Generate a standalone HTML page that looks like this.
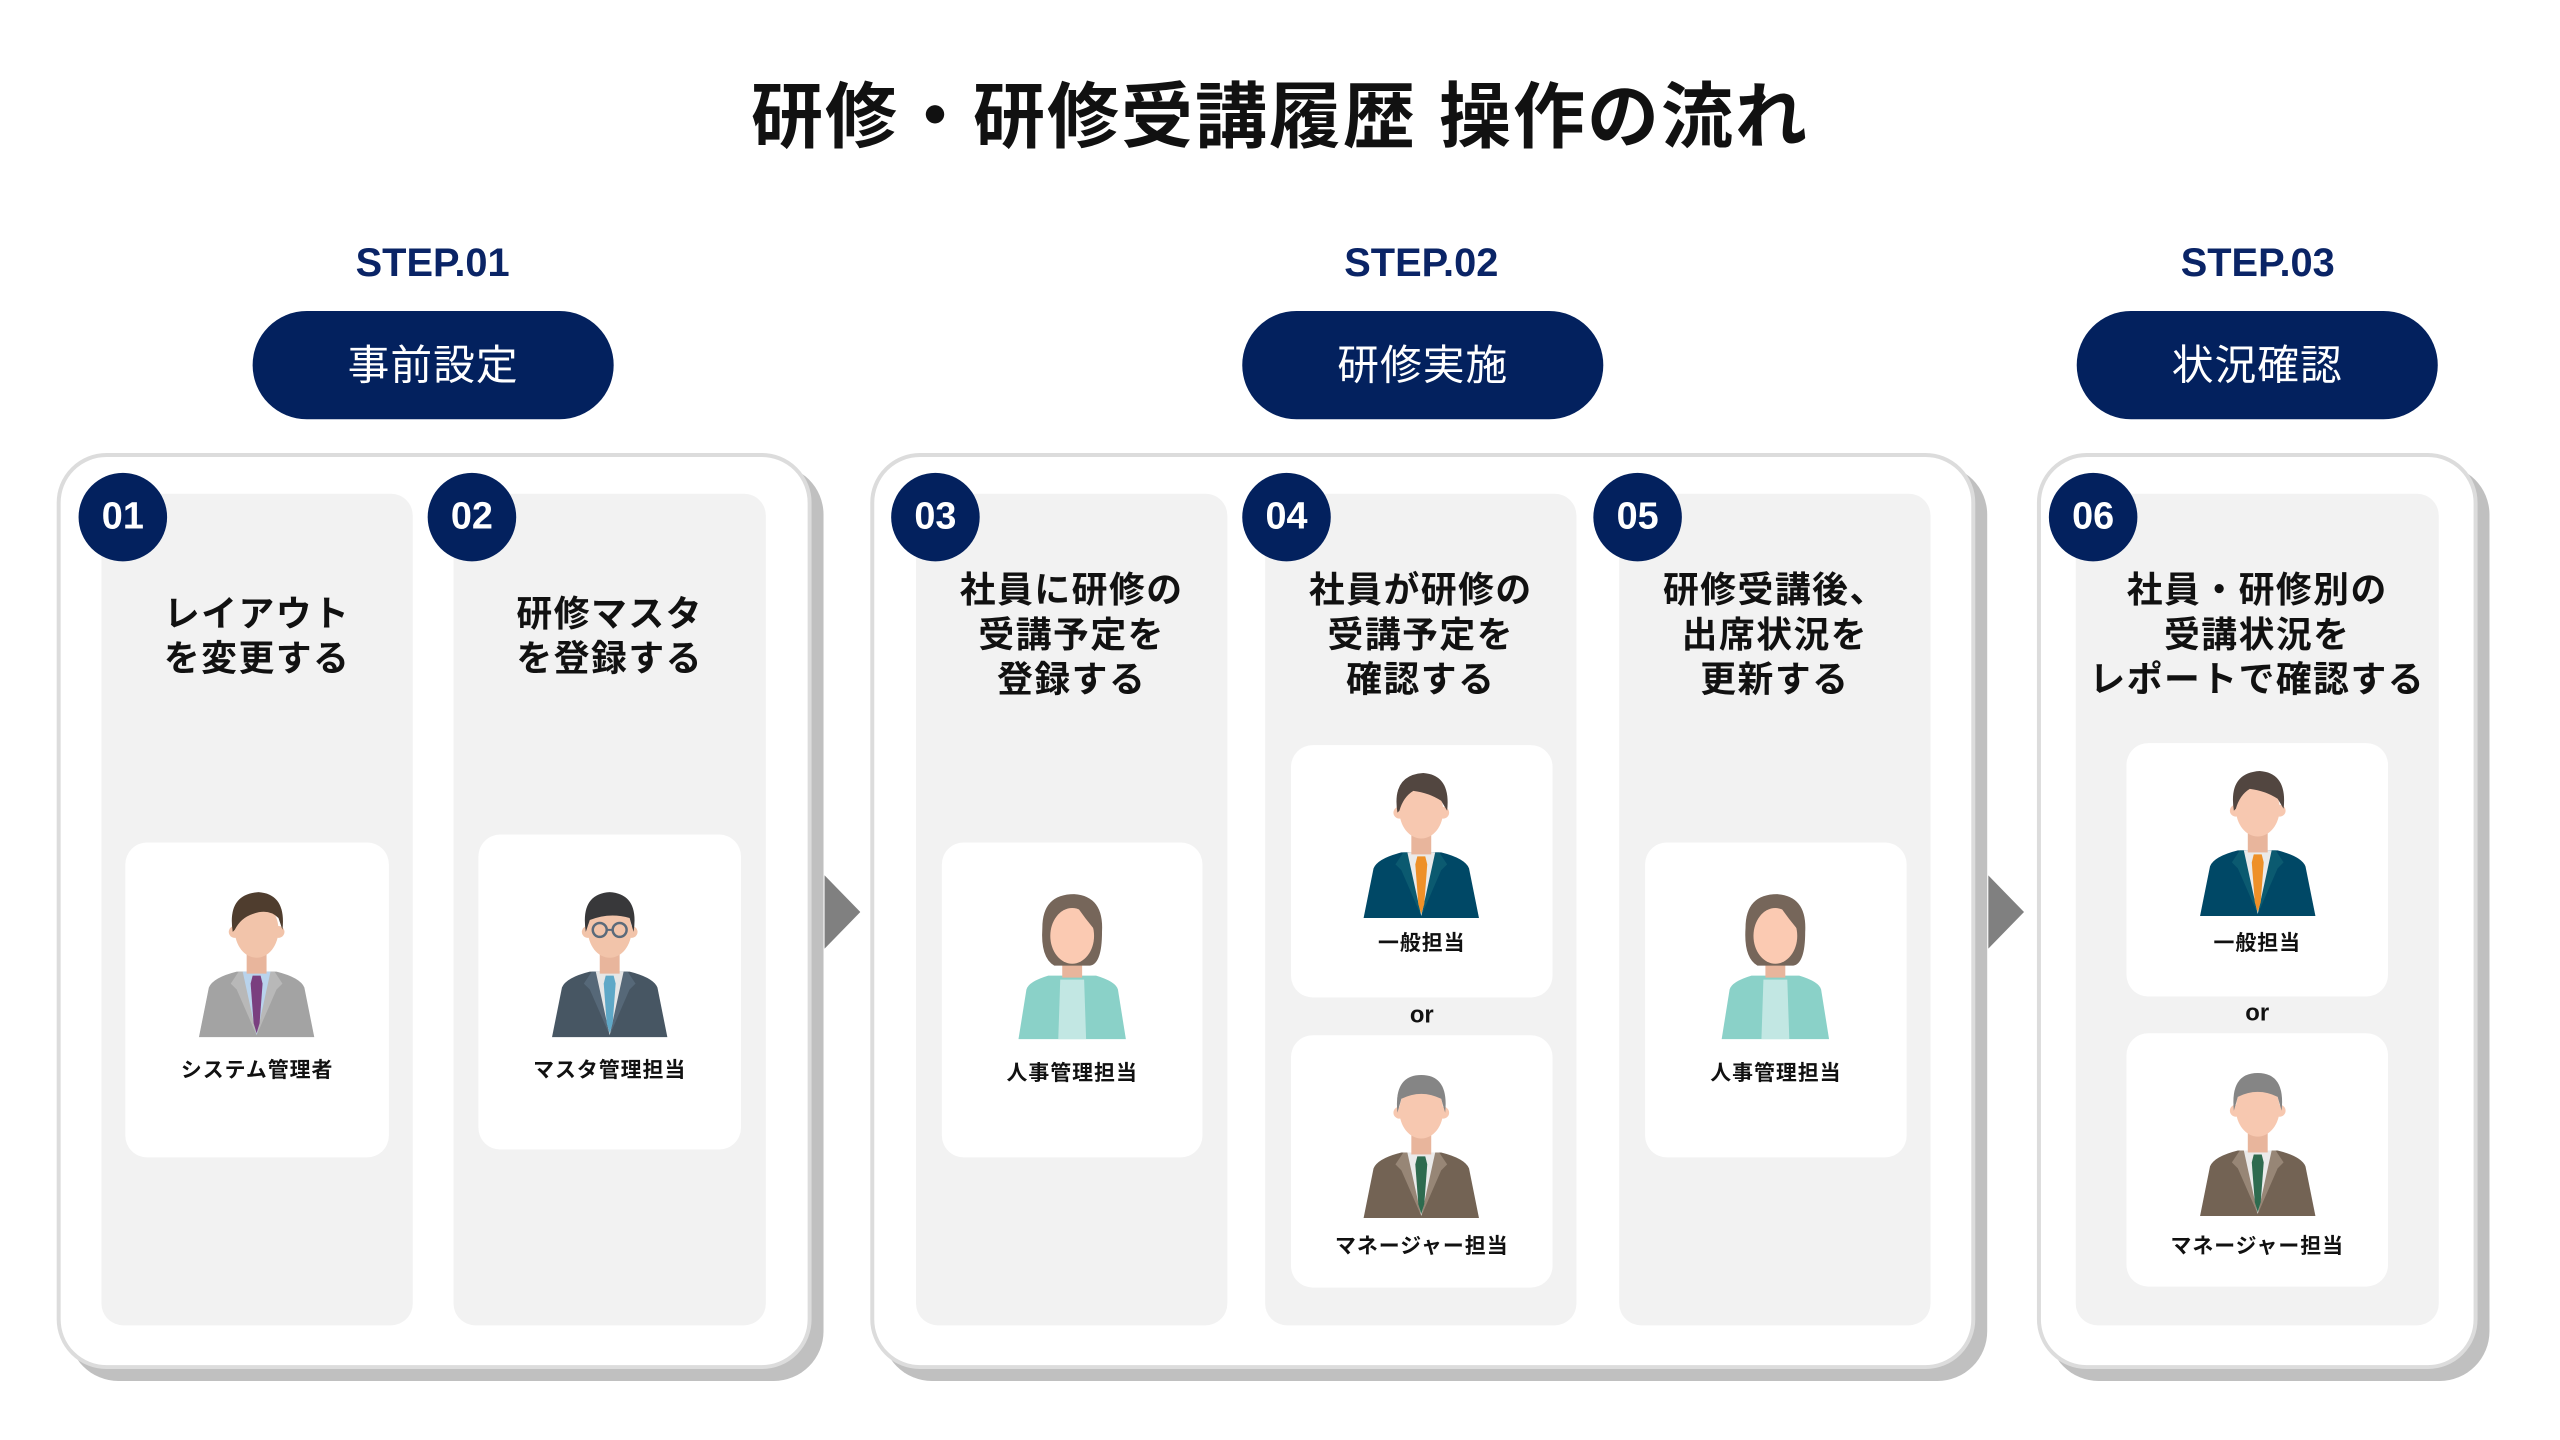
<!DOCTYPE html>
<html><head><meta charset="utf-8"><style>
*{margin:0;padding:0;box-sizing:border-box}
body{width:2560px;height:1440px;background:#fff;position:relative;overflow:hidden;font-family:"Liberation Sans","Noto Sans CJK JP",sans-serif}
.a{position:absolute}
#wrap{position:absolute;left:0;top:0;width:2560px;height:1440px;transform:scale(0.9946,0.9935);transform-origin:0 0}
.title{left:0;width:2560px;top:70px;text-align:center;font-size:72px;font-weight:bold;color:#111;letter-spacing:2px;line-height:96px}
.step{width:400px;text-align:center;font-size:40px;font-weight:bold;color:#0a2466;top:240px;line-height:50px}
.pill{width:363px;height:109px;top:313px;border-radius:55px;background:#03215e;color:#fff;font-size:42px;text-align:center;line-height:109px;letter-spacing:1px}
.box{top:456px;height:922px;border:4px solid #dcdcdc;border-radius:50px;background:#fff;box-shadow:12px 12px 0 #c0c0c0}
.col{top:497px;height:837px;background:#f2f2f2;border-radius:22px}
.num{width:89px;height:89px;border-radius:50%;background:#03215e;color:#fff;font-size:38px;font-weight:bold;text-align:center;line-height:89px;top:476px}
.hd{text-align:center;font-size:36px;font-weight:bold;color:#111;line-height:45px;letter-spacing:1.5px}
.card{background:#fff;border-radius:22px}
.lb{text-align:center;font-size:21px;font-weight:bold;color:#111;line-height:28px;letter-spacing:1px}
.or{text-align:center;font-size:24px;font-weight:bold;color:#111}
</style></head><body>
<svg width="0" height="0" style="position:absolute">
<defs>
<symbol id="m1" viewBox="0 0 120 152">
<path d="M12 102 Q16 92 40 86 L80 86 Q104 92 108 102 L118 152 L2 152 Z" fill="#a3a3a3"/>
<path d="M42 86 L34 98 L40 104 L60 150 L48 86Z M78 86 L86 98 L80 104 L60 150 L72 86Z" fill="#b8b8b8"/>
<path d="M46 86 L74 86 L60 150 Z" fill="#b9d3ec"/>
<path d="M56 90 L64 90 L66 98 L63 138 L60 148 L57 138 L54 98 Z" fill="#7a3f7f"/>
<rect x="50" y="60" width="20" height="28" fill="#e8b59c"/>
<circle cx="38" cy="46" r="6" fill="#f2c4aa"/><circle cx="82" cy="46" r="6" fill="#f2c4aa"/>
<ellipse cx="60" cy="44" rx="22" ry="28" fill="#f2c4aa"/>
<path d="M36 46 Q30 8 62 6 Q90 8 86 44 L82 32 Q72 22 56 28 Q44 32 38 44 Z" fill="#4f3d2e"/>
</symbol>
<symbol id="m2" viewBox="0 0 120 152">
<path d="M12 102 Q16 92 40 86 L80 86 Q104 92 108 102 L118 152 L2 152 Z" fill="#475663"/>
<path d="M42 86 L34 98 L40 104 L60 150 L48 86Z M78 86 L86 98 L80 104 L60 150 L72 86Z" fill="#566878"/>
<path d="M46 86 L74 86 L60 150 Z" fill="#e6e6e6"/>
<path d="M56 90 L64 90 L66 98 L63 138 L60 148 L57 138 L54 98 Z" fill="#5fa8c7"/>
<rect x="50" y="60" width="20" height="28" fill="#e8b59c"/>
<circle cx="38" cy="46" r="6" fill="#f2c4aa"/><circle cx="82" cy="46" r="6" fill="#f2c4aa"/>
<ellipse cx="60" cy="44" rx="22" ry="28" fill="#f2c4aa"/>
<path d="M36 46 Q30 8 60 6 Q90 8 84 46 L80 32 Q60 26 40 34 Z" fill="#38383a"/>
<circle cx="50" cy="44" r="7" fill="none" stroke="#5a6a7a" stroke-width="2.5"/><circle cx="70" cy="44" r="7" fill="none" stroke="#5a6a7a" stroke-width="2.5"/><path d="M57 44 L63 44" stroke="#5a6a7a" stroke-width="2"/>
</symbol>
<symbol id="m3" viewBox="0 0 120 152">
<path d="M12 102 Q16 92 40 86 L80 86 Q104 92 108 102 L118 152 L2 152 Z" fill="#004866"/>
<path d="M42 86 L34 98 L40 104 L60 150 L48 86Z M78 86 L86 98 L80 104 L60 150 L72 86Z" fill="#0b5a70"/>
<path d="M46 86 L74 86 L60 150 Z" fill="#eaeaea"/>
<path d="M56 90 L64 90 L66 98 L63 138 L60 148 L57 138 L54 98 Z" fill="#ee9028"/>
<rect x="50" y="60" width="20" height="28" fill="#e8b59c"/>
<circle cx="38" cy="46" r="6" fill="#f7c8b0"/><circle cx="82" cy="46" r="6" fill="#f7c8b0"/>
<ellipse cx="60" cy="44" rx="22" ry="28" fill="#f7c8b0"/>
<path d="M36 46 Q30 8 62 6 Q90 8 86 44 L80 34 Q68 26 52 24 Q42 30 38 44 Z" fill="#524640"/>
</symbol>
<symbol id="m4" viewBox="0 0 120 152">
<path d="M12 102 Q16 92 40 86 L80 86 Q104 92 108 102 L118 152 L2 152 Z" fill="#736354"/>
<path d="M42 86 L34 98 L40 104 L60 150 L48 86Z M78 86 L86 98 L80 104 L60 150 L72 86Z" fill="#978676"/>
<path d="M46 86 L74 86 L60 150 Z" fill="#eaeaea"/>
<path d="M56 90 L64 90 L66 98 L63 138 L60 148 L57 138 L54 98 Z" fill="#2e6b4f"/>
<rect x="50" y="60" width="20" height="28" fill="#e8b59c"/>
<circle cx="38" cy="46" r="6" fill="#f7c8b0"/><circle cx="82" cy="46" r="6" fill="#f7c8b0"/>
<ellipse cx="60" cy="44" rx="22" ry="28" fill="#f7c8b0"/>
<path d="M36 46 Q32 8 60 8 Q88 8 84 46 L80 32 Q60 22 40 32 Z" fill="#858585"/>
</symbol>
<symbol id="w" viewBox="0 0 120 152">
<path d="M14 102 Q16 94 36 88 L84 88 Q104 94 106 102 L114 152 L6 152 Z" fill="#8ad1c8"/>
<path d="M48 92 L72 92 L74 152 L46 152 Z" fill="#c2e7e3"/>
<rect x="50" y="62" width="20" height="28" fill="#e8b59c"/>
<path d="M30 40 Q30 6 62 6 Q92 8 90 44 Q90 76 78 78 L42 78 Q28 70 30 40Z" fill="#76665a"/>
<ellipse cx="60" cy="48" rx="22" ry="28" fill="#fbcab2"/>
<path d="M36 44 Q40 14 62 14 Q72 30 88 48 L86 26 Q76 8 56 10 Q38 16 36 44Z" fill="#76665a"/>
</symbol>
</defs></svg>

<div class="a title">研修・研修受講履歴 操作の流れ</div>

<div id="wrap">
<div class="a step" style="left:235px">STEP.01</div>
<div class="a step" style="left:1229px">STEP.02</div>
<div class="a step" style="left:2070px">STEP.03</div>
<div class="a pill" style="left:254px">事前設定</div>
<div class="a pill" style="left:1249px">研修実施</div>
<div class="a pill" style="left:2088px">状況確認</div>

<div class="a box" style="left:57px;width:759px"></div>
<div class="a box" style="left:875px;width:1111px"></div>
<div class="a box" style="left:2048px;width:443px"></div>

<svg class="a" style="left:829px;top:881px" width="36" height="74"><path d="M0 0 L36 37 L0 74Z" fill="#808080"/></svg>
<svg class="a" style="left:1999px;top:881px" width="36" height="74"><path d="M0 0 L36 37 L0 74Z" fill="#808080"/></svg>

<div class="a col" style="left:102px;width:313px"></div>
<div class="a col" style="left:456px;width:314px"></div>
<div class="a col" style="left:921px;width:313px"></div>
<div class="a col" style="left:1272px;width:313px"></div>
<div class="a col" style="left:1628px;width:313px"></div>
<div class="a col" style="left:2087px;width:365px"></div>

<div class="a num" style="left:79px">01</div>
<div class="a num" style="left:430px">02</div>
<div class="a num" style="left:896px">03</div>
<div class="a num" style="left:1249px">04</div>
<div class="a num" style="left:1602px">05</div>
<div class="a num" style="left:2060px">06</div>

<div class="a hd" style="left:102px;width:313px;top:595px">レイアウト<br>を変更する</div>
<div class="a hd" style="left:456px;width:314px;top:595px">研修マスタ<br>を登録する</div>
<div class="a hd" style="left:921px;width:313px;top:571px">社員に研修の<br>受講予定を<br>登録する</div>
<div class="a hd" style="left:1272px;width:313px;top:571px">社員が研修の<br>受講予定を<br>確認する</div>
<div class="a hd" style="left:1628px;width:313px;top:571px">研修受講後、<br>出席状況を<br>更新する</div>
<div class="a hd" style="left:2067px;width:405px;top:571px">社員・研修別の<br>受講状況を<br>レポートで確認する</div>

<div class="a card" style="left:126px;top:848px;width:265px;height:317px"></div>
<div class="a card" style="left:481px;top:840px;width:264px;height:317px"></div>
<div class="a card" style="left:947px;top:848px;width:262px;height:317px"></div>
<div class="a card" style="left:1298px;top:750px;width:263px;height:254px"></div>
<div class="a card" style="left:1298px;top:1042px;width:263px;height:254px"></div>
<div class="a card" style="left:1654px;top:848px;width:263px;height:317px"></div>
<div class="a card" style="left:2138px;top:748px;width:263px;height:255px"></div>
<div class="a card" style="left:2138px;top:1040px;width:263px;height:255px"></div>

<svg class="a" style="left:198px;top:892px" width="120" height="152"><use href="#m1"/></svg>
<div class="a lb" style="left:126px;width:265px;top:1064px">システム管理者</div>
<svg class="a" style="left:553px;top:892px" width="120" height="152"><use href="#m2"/></svg>
<div class="a lb" style="left:481px;width:264px;top:1064px">マスタ管理担当</div>
<svg class="a" style="left:1018px;top:894px" width="120" height="152"><use href="#w"/></svg>
<div class="a lb" style="left:947px;width:262px;top:1067px">人事管理担当</div>
<svg class="a" style="left:1369px;top:772px" width="120" height="152"><use href="#m3"/></svg>
<div class="a lb" style="left:1298px;width:263px;top:936px">一般担当</div>
<div class="a or" style="left:1298px;width:263px;top:1008px">or</div>
<svg class="a" style="left:1369px;top:1074px" width="120" height="152"><use href="#m4"/></svg>
<div class="a lb" style="left:1298px;width:263px;top:1241px">マネージャー担当</div>
<svg class="a" style="left:1725px;top:894px" width="120" height="152"><use href="#w"/></svg>
<div class="a lb" style="left:1654px;width:263px;top:1067px">人事管理担当</div>
<svg class="a" style="left:2210px;top:770px" width="120" height="152"><use href="#m3"/></svg>
<div class="a lb" style="left:2138px;width:263px;top:936px">一般担当</div>
<div class="a or" style="left:2138px;width:263px;top:1006px">or</div>
<svg class="a" style="left:2210px;top:1072px" width="120" height="152"><use href="#m4"/></svg>
<div class="a lb" style="left:2138px;width:263px;top:1241px">マネージャー担当</div>
</div>
</body></html>
